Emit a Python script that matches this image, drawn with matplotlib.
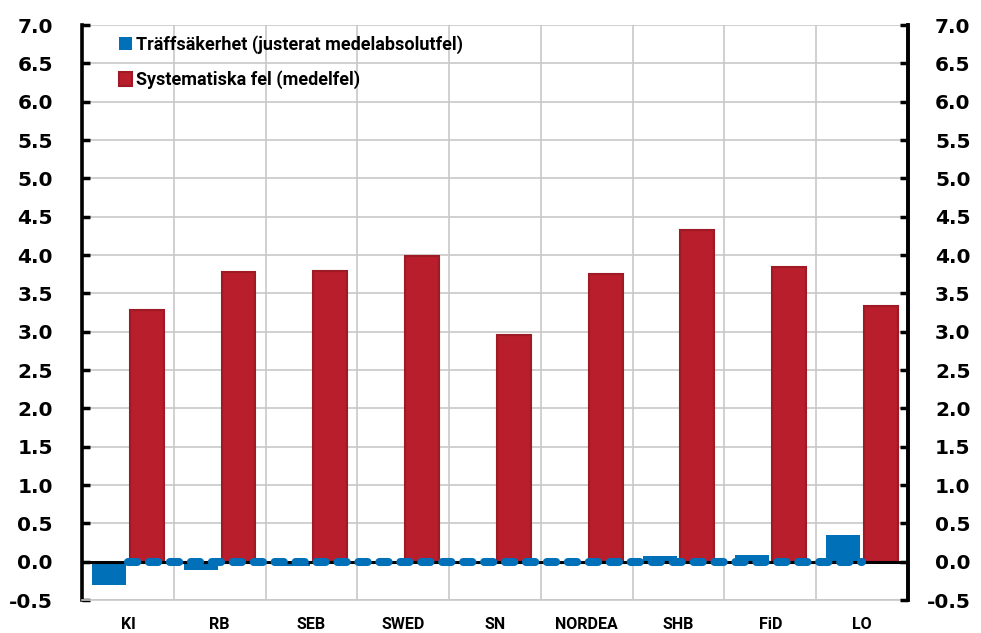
from matplotlib import pyplot as plt
import numpy as np

institut = ['KI', 'RB', 'SEB', 'SWED', 'SN', 'NORDEA', 'SHB', 'FiD', 'LO']
traffsakerhet = [-0.30, -0.11, -0.06, -0.02, -0.01, -0.01, 0.07, 0.09, 0.35]
systematiska = [3.28, 3.78, 3.79, 3.99, 2.96, 3.75, 4.32, 3.84, 3.34]
nollinje = [0, 0, 0, 0, 0, 0, 0, 0, 0]
yticks = np.arange(-0.5, 7.01, 0.5)

blue = '#0070b8'
red = '#b81e2c'

fig = plt.figure(figsize=(9.81, 6.33), dpi=100)
ax = fig.add_axes([0.0836, 0.0521, 0.842, 0.9084])
x = np.arange(len(institut))
w = 0.37

ax.bar(x - 0.205, traffsakerhet, w, color=blue, label='Träffsäkerhet (justerat medelabsolutfel)', zorder=3)
ax.bar(x + 0.205, systematiska, w, color=red, edgecolor='#a01a26', linewidth=1.5,
       label='Systematiska fel (medelfel)', zorder=3)
ax.axhline(0, color='black', lw=2.2, zorder=4)
# nollserien ritas som tjock streckad linje
ax.plot(x, nollinje, color=blue, lw=5.8, ls=(0, (1.15, 1.45)), dash_capstyle='round',
        solid_capstyle='round', zorder=5)

ax.set_xlim(-0.5, len(institut) - 0.5)
ax.set_ylim(-0.5, 7.0)
ax.set_yticks(yticks)
ax.set_yticklabels(['%.1f' % v for v in yticks], fontsize=14.5, fontweight='bold')
ax.set_xticks(x)
ax.set_xticklabels(institut, fontsize=11.5, fontweight='bold', family='Roboto')
ax.set_xticks(np.arange(0.5, len(institut) - 0.5, 1), minor=True)
ax.tick_params(axis='x', which='both', length=0, pad=12)
ax.tick_params(axis='y', direction='in', length=6, width=2.5, pad=21)
ax.grid(axis='y', color='#c8c8c8', lw=1.2, zorder=0)
ax.grid(axis='x', which='minor', color='#c8c8c8', lw=1.2, zorder=0)
ax.spines['top'].set_visible(False)
ax.spines['bottom'].set_color('#c8c8c8')
ax.spines['bottom'].set_linewidth(1.2)
ax.spines['left'].set_linewidth(2.6)
ax.spines['right'].set_linewidth(2.6)

ax2 = ax.twinx()
ax2.set_ylim(-0.5, 7.0)
ax2.set_yticks(yticks)
ax2.set_yticklabels(['%.1f' % v for v in yticks], fontsize=14.5, fontweight='bold')
ax2.tick_params(axis='y', direction='in', length=6, width=2.5, pad=45)
for lab in ax2.get_yticklabels():
    lab.set_horizontalalignment('right')
for s in ['top', 'bottom', 'left']:
    ax2.spines[s].set_visible(False)
ax2.spines['right'].set_linewidth(2.6)

leg = ax.legend(loc='upper left', bbox_to_anchor=(0.025, 1.01), frameon=False,
                handlelength=0.75, handleheight=0.75, handletextpad=0.2, labelspacing=0.9,
                prop={'family': 'Roboto', 'weight': 'bold', 'size': 13})

plt.savefig('out.png', dpi=100)
